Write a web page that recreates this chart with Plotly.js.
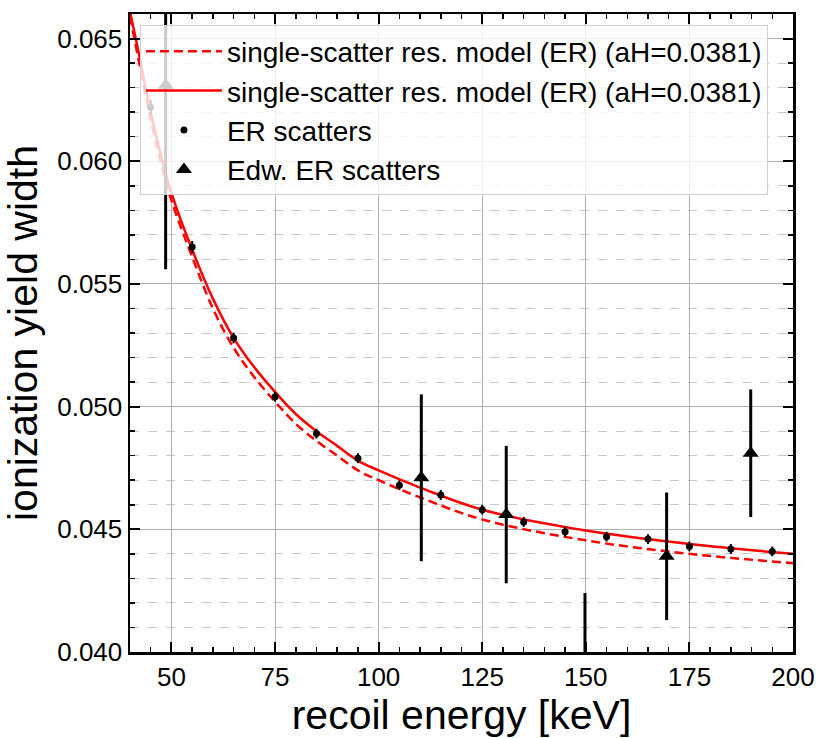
<!DOCTYPE html>
<html>
<head>
<meta charset="utf-8">
<script src="https://cdn.plot.ly/plotly-3.0.1.min.js"></script>
<style>
  body { margin: 0; background: #fff; }
  #chart { width: 830px; height: 738px; }
</style>
</head>
<body>
<div id="chart"></div>
<script>
// model curves
var modelE = [40, 42, 45, 48, 50, 55, 60, 65, 70, 75, 80, 85, 90, 95, 100, 110, 125, 150, 175, 200];
var modelSolid = [0.0661, 0.0645, 0.0620, 0.0599, 0.0587, 0.0564, 0.0544, 0.0528, 0.0516, 0.0506, 0.0497, 0.0490, 0.0484, 0.0478, 0.0474, 0.0467, 0.0458, 0.04495, 0.0444, 0.0440];
var modelDashed = [0.0659, 0.0642, 0.0617, 0.0596, 0.0584, 0.0561, 0.0540, 0.0524, 0.0512, 0.0502, 0.0493, 0.0486, 0.0480, 0.0474, 0.0470, 0.0463, 0.0454, 0.04455, 0.0440, 0.04362];

// ER scatters
var erE = [45, 55, 65, 75, 85, 95, 105, 115, 125, 135, 145, 155, 165, 175, 185, 195];
var erW = [0.0622, 0.0565, 0.0528, 0.0504, 0.0489, 0.0479, 0.0468, 0.0464, 0.0458, 0.0453, 0.0449, 0.0447, 0.0446, 0.0443, 0.0442, 0.0441];
var erErr = [0.0003, 0.00025, 0.00022, 0.0002, 0.0002, 0.0002, 0.0002, 0.0002, 0.0002, 0.0002, 0.0002, 0.0002, 0.0002, 0.0002, 0.0002, 0.0002];

// Edelweiss ER scatters
var edwE = [48.6, 110.3, 130.8, 149.8, 169.5, 189.8];
var edwW = [0.0631, 0.0471, 0.0456, 0.0372, 0.0439, 0.0481];
var edwErr = [0.0075, 0.0034, 0.0028, 0.0052, 0.0026, 0.0026];

var legendText = 'single-scatter res. model (ER) (aH=0.0381)';

var traces = [
  {
    x: modelE, y: modelDashed, type: 'scatter', mode: 'lines',
    name: legendText,
    line: {color: '#ff0000', width: 2.5, dash: '9px,5px', shape: 'spline'}
  },
  {
    x: modelE, y: modelSolid, type: 'scatter', mode: 'lines',
    name: legendText,
    line: {color: '#ff0000', width: 2.5, shape: 'spline'}
  },
  {
    x: erE, y: erW, type: 'scatter', mode: 'markers',
    name: 'ER scatters',
    marker: {color: '#000', size: 7, symbol: 'circle'},
    error_y: {type: 'data', array: erErr, visible: true, color: '#000', thickness: 2, width: 0}
  },
  {
    x: edwE, y: edwW, type: 'scatter', mode: 'markers',
    name: 'Edw. ER scatters',
    marker: {color: '#000', size: 14, symbol: 'triangle-up'},
    error_y: {type: 'data', array: edwErr, visible: true, color: '#000', thickness: 3, width: 0}
  }
];

var layout = {
  width: 830,
  height: 738,
  margin: {l: 130, r: 37, t: 14, b: 86},
  paper_bgcolor: '#fff',
  plot_bgcolor: '#fff',
  font: {family: 'Liberation Sans, Arial, sans-serif', color: '#000', size: 26},
  showlegend: true,
  legend: {
    x: 0.015, y: 0.982, xanchor: 'left', yanchor: 'top',
    bgcolor: 'rgba(255,255,255,0.8)',
    bordercolor: '#d0d0d0', borderwidth: 1,
    font: {size: 28, color: '#000'},
    itemwidth: 76,
    tracegroupgap: 0
  },
  xaxis: {
    range: [40, 200],
    tickvals: [50, 75, 100, 125, 150, 175, 200],
    ticks: 'inside', ticklen: 10, tickwidth: 2, tickcolor: '#000',
    showline: true, linecolor: '#000', linewidth: 2.5, mirror: 'allticks',
    showgrid: true, gridcolor: '#b0b0b0', gridwidth: 1,
    zeroline: false,
    tickfont: {size: 26},
    minor: {dtick: 5, ticks: 'inside', ticklen: 5, tickwidth: 1.5, tickcolor: '#000', showgrid: false},
    title: {text: 'recoil energy [keV]', font: {size: 41}, standoff: 0}
  },
  yaxis: {
    range: [0.040, 0.066],
    tickvals: [0.040, 0.045, 0.050, 0.055, 0.060, 0.065],
    tickformat: '.3f',
    ticks: 'inside', ticklen: 10, tickwidth: 2, tickcolor: '#000',
    showline: true, linecolor: '#000', linewidth: 2.5, mirror: 'allticks',
    showgrid: true, gridcolor: '#b0b0b0', gridwidth: 1,
    zeroline: false,
    tickfont: {size: 26},
    minor: {dtick: 0.001, ticks: 'inside', ticklen: 5, tickwidth: 1.5, tickcolor: '#000',
            showgrid: true, gridcolor: '#c8c8c8', griddash: 'dash', gridwidth: 1},
    title: {text: 'ionization yield width', font: {size: 41}, standoff: 8}
  }
};

Plotly.newPlot('chart', traces, layout, {displayModeBar: false, staticPlot: true});
</script>
</body>
</html>
